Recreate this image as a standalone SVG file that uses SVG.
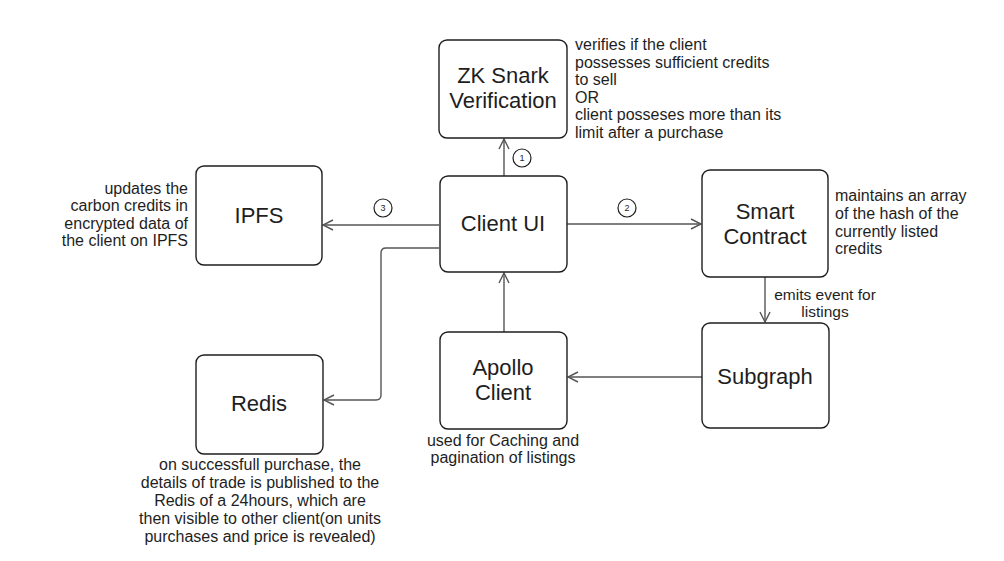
<svg xmlns="http://www.w3.org/2000/svg" width="1004" height="561" viewBox="0 0 1004 561">
<defs>
<style>
.box{fill:#fff;stroke:#1e1e1e;stroke-width:1.4}
.lbl{font-family:"Liberation Sans",Arial,sans-serif;font-size:22px;fill:#1e1e1e;text-anchor:middle}
.note{font-family:"Liberation Sans",Arial,sans-serif;font-size:16px;fill:#1e1e1e}
.c{fill:none;stroke:#1e1e1e;stroke-width:1.2}
.num{font-family:"Liberation Sans",Arial,sans-serif;font-size:9px;fill:#1e1e1e;text-anchor:middle}
.ln{fill:none;stroke:#555;stroke-width:1.4}
</style>
<marker id="ah" viewBox="0 0 12 12" refX="11" refY="6" markerWidth="12" markerHeight="12" markerUnits="userSpaceOnUse" orient="auto">
<path d="M1,1 L11,6 L1,11" fill="none" stroke="#555" stroke-width="1.4"/>
</marker>
</defs>
<rect width="1004" height="561" fill="#fff"/>
<g id="connectors">
<line class="ln" x1="504" y1="176" x2="504" y2="139" marker-end="url(#ah)"/>
<line class="ln" x1="439" y1="225" x2="323" y2="225" marker-end="url(#ah)"/>
<line class="ln" x1="567" y1="224" x2="701" y2="224" marker-end="url(#ah)"/>
<line class="ln" x1="765" y1="277" x2="765" y2="322" marker-end="url(#ah)"/>
<line class="ln" x1="702" y1="377" x2="568" y2="377" marker-end="url(#ah)"/>
<line class="ln" x1="504" y1="332" x2="504" y2="273" marker-end="url(#ah)"/>
<path class="ln" d="M439,248 L386,248 Q381,248 381,253 L381,395 Q381,400 376,400 L324,400" marker-end="url(#ah)"/>
<circle class="c" cx="522" cy="158" r="9"/>
<text class="num" x="522" y="161">1</text>
<circle class="c" cx="627" cy="208" r="9"/>
<text class="num" x="627" y="211">2</text>
<circle class="c" cx="383" cy="208" r="9"/>
<text class="num" x="383" y="211">3</text>
<text class="note" x="825" y="300" text-anchor="middle" style="font-size:15.5px">emits event for</text>
<text class="note" x="825" y="317" text-anchor="middle" style="font-size:15.5px">listings</text>
</g>
<g id="zk">
<rect class="box" x="439" y="40" width="128" height="98" rx="8"/>
<text class="lbl" x="503" y="83">ZK Snark</text>
<text class="lbl" x="503" y="108">Verification</text>
<text class="note" x="575" y="50">verifies if the client</text>
<text class="note" x="575" y="67.5">possesses sufficient credits</text>
<text class="note" x="575" y="85">to sell</text>
<text class="note" x="575" y="102.5">OR</text>
<text class="note" x="575" y="120">client posseses more than its</text>
<text class="note" x="575" y="137.5">limit after a purchase</text>
</g>
<g id="client-ui">
<rect class="box" x="440" y="176" width="127" height="96" rx="8"/>
<text class="lbl" x="503" y="231">Client UI</text>
</g>
<g id="ipfs">
<rect class="box" x="196" y="166" width="126" height="99" rx="8"/>
<text class="lbl" x="259" y="223">IPFS</text>
<text class="note" x="188" y="194" text-anchor="end">updates the</text>
<text class="note" x="188" y="211" text-anchor="end">carbon credits in</text>
<text class="note" x="188" y="229" text-anchor="end">encrypted data of</text>
<text class="note" x="188" y="246" text-anchor="end">the client on IPFS</text>
</g>
<g id="smart-contract">
<rect class="box" x="702" y="170" width="126" height="107" rx="8"/>
<text class="lbl" x="765" y="219">Smart</text>
<text class="lbl" x="765" y="244">Contract</text>
<text class="note" x="835" y="201">maintains an array</text>
<text class="note" x="835" y="219">of the hash of the</text>
<text class="note" x="835" y="237">currently listed</text>
<text class="note" x="835" y="254">credits</text>
</g>
<g id="subgraph">
<rect class="box" x="702" y="323" width="127" height="105" rx="8"/>
<text class="lbl" x="765" y="384">Subgraph</text>
</g>
<g id="apollo">
<rect class="box" x="440" y="332" width="127" height="97" rx="8"/>
<text class="lbl" x="503" y="375">Apollo</text>
<text class="lbl" x="503" y="400">Client</text>
<text class="note" x="503" y="446" text-anchor="middle">used for Caching and</text>
<text class="note" x="503" y="463" text-anchor="middle">pagination of listings</text>
</g>
<g id="redis">
<rect class="box" x="196" y="355" width="127" height="99" rx="8"/>
<text class="lbl" x="259" y="411">Redis</text>
<text class="note" x="260" y="470" text-anchor="middle">on successfull purchase, the</text>
<text class="note" x="260" y="488" text-anchor="middle">details of trade is published to the</text>
<text class="note" x="260" y="506" text-anchor="middle">Redis of a 24hours, which are</text>
<text class="note" x="260" y="524" text-anchor="middle">then visible to other client(on units</text>
<text class="note" x="260" y="542" text-anchor="middle">purchases and price is revealed)</text>
</g>
</svg>
